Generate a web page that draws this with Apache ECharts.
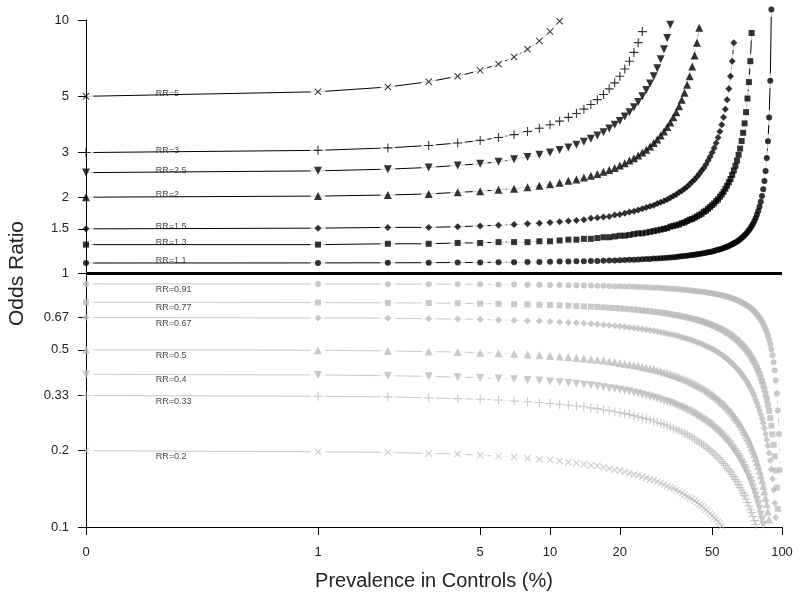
<!DOCTYPE html>
<html><head><meta charset="utf-8">
<script src="https://cdn.jsdelivr.net/npm/echarts@6/dist/echarts.min.js"></script>
<style>html,body{margin:0;padding:0;background:#fff}#c{width:800px;height:604px}</style>
</head><body><div id="c"></div>
<script>
// Prevalence in controls (%) — first point drawn at the "0" tick (0.1 on the log axis)
const prevalence = [0.1,1,2,3,4,5,6,7,8,9,10,11,12,13,14,15,16,17,18,19,20,21,22,23,24,25,26,27,28,29,30,31,32,33,34,35,36,37,38,39,40,41,42,43,44,45,46,47,48,49,50,51,52,53,54,55,56,57,58,59,60,61,62,63,64,65,66,67,68,69,70,71,72,73,74,75,76,77,78,79,80,81,82,83,84,85,86,87,88,89,90,91,92,93,94,95,96,97,98,99];

const xTickValues = [0.1,1,5,10,20,50,100];
const xTickLabels = ['0','1','5','10','20','50','100'];
const yTickValues = [0.1,0.2,0.33,0.5,0.67,1,1.5,2,3,5,10];
const yTickLabels = ['0.1','0.2','0.33','0.5','0.67','1','1.5','2','3','5','10'];

const curveLabels = ['RR=5','RR=3','RR=2.5','RR=2','RR=1.5','RR=1.3','RR=1.1','RR=0.91','RR=0.77','RR=0.67','RR=0.5','RR=0.4','RR=0.33','RR=0.2'];
const curveRR = [5,3,2.5,2,1.5,1.3,1.1,0.91,0.77,0.67,0.5,0.4,0.33,0.2];

// Odds ratios
const orRR5 = [5,5.21,5.44,5.71,6.0,6.33,6.71,7.15,7.67,8.27,9.0,9.89];
const orRR3 = [3,3.06,3.13,3.20,3.27,3.35,3.44,3.53,3.63,3.74,3.86,3.99,4.13,4.28,4.45,4.64,4.85,5.08,5.35,5.65,6.0,6.41,6.88,7.45,8.14,9.0];
const orRR25 = [2.5,2.54,2.58,2.62,2.67,2.71,2.76,2.82,2.88,2.94,3.0,3.07,3.14,3.22,3.31,3.4,3.5,3.61,3.73,3.86,4.0,4.16,4.33,4.53,4.75,5.0,5.29,5.62,6.0,6.45,7.0,7.67,8.5,9.57];
const orRR2 = [2,2.02,2.04,2.06,2.09,2.11,2.14,2.16,2.19,2.22,2.25,2.28,2.32,2.35,2.39,2.43,2.47,2.52,2.56,2.61,2.67,2.72,2.79,2.85,2.92,3.0,3.08,3.17,3.27,3.38,3.5,3.63,3.78,3.94,4.13,4.33,4.57,4.85,5.17,5.55,6.0,6.56,7.25,8.14,9.33];
const orRR15 = [1.5,1.51,1.52,1.52,1.53,1.54,1.55,1.56,1.57,1.58,1.59,1.60,1.61,1.62,1.63,1.65,1.66,1.67,1.68,1.70,1.71,1.73,1.75,1.76,1.78,1.8,1.82,1.84,1.86,1.89,1.91,1.93,1.96,1.99,2.02,2.05,2.09,2.12,2.16,2.20,2.25,2.30,2.35,2.41,2.47,2.54,2.61,2.69,2.79,2.89,3.0,3.13,3.27,3.44,3.63,3.86,4.13,4.45,4.85,5.35,6.0,6.88,8.14];
const orRR13 = [1.3,1.30,1.31,1.31,1.32,1.32,1.33,1.33,1.33,1.34,1.34,1.35,1.36,1.36,1.37,1.37,1.38,1.39,1.39,1.40,1.41,1.41,1.42,1.43,1.44,1.44,1.45,1.46,1.47,1.48,1.49,1.50,1.51,1.53,1.54,1.55,1.56,1.58,1.59,1.61,1.63,1.64,1.66,1.68,1.70,1.72,1.75,1.77,1.80,1.83,1.86,1.89,1.93,1.96,2.01,2.05,2.10,2.16,2.22,2.29,2.36,2.45,2.55,2.66,2.79,2.94,3.11,3.33,3.59,3.91,4.33,4.90,5.69,6.88,8.89];
const orRR11 = [1.1,1.101,1.102,1.103,1.105,1.106,1.107,1.108,1.110,1.111,1.112,1.114,1.115,1.117,1.118,1.120,1.121,1.123,1.125,1.126,1.128,1.130,1.132,1.134,1.136,1.138,1.140,1.142,1.145,1.147,1.149,1.152,1.154,1.157,1.160,1.163,1.166,1.169,1.172,1.175,1.179,1.182,1.186,1.190,1.194,1.198,1.202,1.207,1.212,1.217,1.222,1.228,1.234,1.240,1.246,1.253,1.260,1.268,1.276,1.285,1.294,1.304,1.315,1.326,1.338,1.351,1.365,1.380,1.397,1.415,1.435,1.457,1.481,1.508,1.538,1.571,1.610,1.654,1.704,1.763,1.833,1.917,2.020,2.149,2.316,2.539,2.852,3.326,4.125,5.762,11.0];
const orRR091 = [0.91,0.909,0.908,0.908,0.907,0.906,0.905,0.904,0.903,0.902,0.901,0.900,0.899,0.898,0.897,0.896,0.895,0.894,0.892,0.891,0.890,0.889,0.888,0.886,0.885,0.884,0.882,0.881,0.879,0.878,0.876,0.875,0.873,0.871,0.870,0.868,0.866,0.864,0.862,0.861,0.859,0.856,0.854,0.852,0.850,0.848,0.845,0.843,0.840,0.838,0.835,0.832,0.829,0.826,0.823,0.820,0.817,0.813,0.809,0.806,0.802,0.798,0.794,0.789,0.785,0.780,0.775,0.769,0.764,0.758,0.752,0.746,0.739,0.732,0.724,0.717,0.708,0.699,0.690,0.680,0.669,0.658,0.645,0.632,0.618,0.603,0.586,0.568,0.548,0.527,0.503,0.476,0.447,0.414,0.378,0.336,0.288,0.233,0.168];
const orRR077 = [0.77,0.768,0.766,0.765,0.763,0.761,0.759,0.757,0.755,0.753,0.751,0.749,0.747,0.744,0.742,0.740,0.738,0.735,0.733,0.731,0.728,0.726,0.723,0.721,0.718,0.715,0.712,0.710,0.707,0.704,0.701,0.698,0.695,0.692,0.688,0.685,0.682,0.678,0.675,0.671,0.668,0.664,0.660,0.656,0.652,0.648,0.644,0.640,0.635,0.631,0.626,0.621,0.616,0.611,0.606,0.601,0.596,0.590,0.584,0.579,0.573,0.566,0.560,0.553,0.547,0.540,0.532,0.525,0.517,0.509,0.501,0.493,0.484,0.475,0.465,0.456,0.446,0.435,0.424,0.413,0.401,0.389,0.376,0.363,0.349,0.334,0.319,0.303,0.287,0.269,0.251,0.232,0.211,0.190,0.167,0.143,0.118];
const orRR067 = [0.67,0.668,0.666,0.663,0.661,0.659,0.656,0.654,0.651,0.649,0.646,0.644,0.641,0.639,0.636,0.633,0.630,0.628,0.625,0.622,0.619,0.616,0.613,0.610,0.607,0.604,0.600,0.597,0.594,0.590,0.587,0.584,0.580,0.576,0.573,0.569,0.565,0.561,0.557,0.553,0.549,0.545,0.541,0.536,0.532,0.528,0.523,0.518,0.514,0.509,0.504,0.499,0.494,0.488,0.483,0.477,0.472,0.466,0.460,0.454,0.448,0.442,0.436,0.429,0.422,0.415,0.408,0.401,0.394,0.386,0.379,0.371,0.362,0.354,0.346,0.337,0.328,0.318,0.309,0.299,0.289,0.278,0.268,0.257,0.245,0.233,0.221,0.209,0.196,0.183,0.169,0.155,0.140,0.124,0.109];
const orRR05 = [0.5,0.498,0.495,0.492,0.490,0.487,0.485,0.482,0.479,0.476,0.474,0.471,0.468,0.465,0.462,0.459,0.457,0.454,0.451,0.448,0.444,0.441,0.438,0.435,0.432,0.429,0.425,0.422,0.419,0.415,0.412,0.408,0.405,0.401,0.398,0.394,0.390,0.387,0.383,0.379,0.375,0.371,0.367,0.363,0.359,0.355,0.351,0.346,0.342,0.338,0.333,0.329,0.324,0.320,0.315,0.310,0.306,0.301,0.296,0.291,0.286,0.281,0.275,0.270,0.265,0.259,0.254,0.248,0.242,0.237,0.231,0.225,0.219,0.213,0.206,0.200,0.194,0.187,0.180,0.174,0.167,0.160,0.153,0.145,0.138,0.130,0.123,0.115,0.107];
const orRR04 = [0.4,0.398,0.395,0.393,0.390,0.388,0.385,0.383,0.380,0.378,0.375,0.372,0.370,0.367,0.364,0.362,0.359,0.356,0.353,0.351,0.348,0.345,0.342,0.339,0.336,0.333,0.330,0.327,0.324,0.321,0.318,0.315,0.312,0.309,0.306,0.302,0.299,0.296,0.293,0.289,0.286,0.282,0.279,0.275,0.272,0.268,0.265,0.261,0.257,0.254,0.250,0.246,0.242,0.239,0.235,0.231,0.227,0.223,0.219,0.215,0.211,0.206,0.202,0.198,0.194,0.189,0.185,0.180,0.176,0.171,0.167,0.162,0.157,0.153,0.148,0.143,0.138,0.133,0.128,0.123,0.118,0.112,0.107,0.102];
const orRR033 = [0.33,0.328,0.326,0.323,0.321,0.319,0.317,0.314,0.312,0.310,0.307,0.305,0.302,0.300,0.298,0.295,0.293,0.290,0.288,0.285,0.283,0.280,0.278,0.275,0.272,0.270,0.267,0.265,0.262,0.259,0.256,0.254,0.251,0.248,0.245,0.243,0.240,0.237,0.234,0.231,0.228,0.225,0.222,0.219,0.216,0.213,0.210,0.207,0.204,0.201,0.198,0.194,0.191,0.188,0.185,0.181,0.178,0.175,0.171,0.168,0.165,0.161,0.158,0.154,0.151,0.147,0.143,0.140,0.136,0.133,0.129,0.125,0.121,0.117,0.114,0.110,0.106,0.102];
const orRR02 = [0.2,0.198,0.197,0.195,0.194,0.192,0.190,0.189,0.187,0.185,0.184,0.182,0.180,0.179,0.177,0.175,0.174,0.172,0.170,0.168,0.167,0.165,0.163,0.161,0.160,0.158,0.156,0.154,0.153,0.151,0.149,0.147,0.145,0.143,0.142,0.140,0.138,0.136,0.134,0.132,0.130,0.129,0.127,0.125,0.123,0.121,0.119,0.117,0.115,0.113,0.111,0.109,0.107,0.105,0.103,0.101];

const curveValues = [orRR5,orRR3,orRR25,orRR2,orRR15,orRR13,orRR11,orRR091,orRR077,orRR067,orRR05,orRR04,orRR033,orRR02];

// ---- styling ----
const FONT = '"Liberation Sans", Arial, sans-serif';
const BLACK = '#000000', GREY_MARK = '#bcbcbc', GREY_LINE = '#c8c8c8';
const SYM = {
  x:      {symbol:'path://M0,1L1,0L5,4L9,0L10,1L6,5L10,9L9,10L5,6L1,10L0,9L4,5Z', size:7, rotate:0},
  plus:   {symbol:'path://M4.4,0H5.6V4.4H10V5.6H5.6V10H4.4V5.6H0V4.4H4.4Z', size:9, rotate:0},
  dtri:   {symbol:'triangle', size:8, rotate:180},
  tri:    {symbol:'triangle', size:8, rotate:0},
  diamond:{symbol:'diamond', size:7, rotate:0},
  square: {symbol:'rect', size:6, rotate:0},
  circle: {symbol:'circle', size:6, rotate:0}
};
const symOrder = ['x','plus','dtri','tri','diamond','square','circle','circle','square','diamond','tri','dtri','plus','x'];

const series = [];
curveValues.forEach((vals, k) => {
  const upper = curveRR[k] > 1;
  const pts = vals.map((v, i) => [prevalence[i], v]);
  const s = SYM[symOrder[k]];
  series.push({type:'line', data:pts, symbol:'none', showSymbol:false, clip:false, z:1, silent:true,
    lineStyle:{color: upper ? BLACK : GREY_LINE, width:1}});
  series.push({type:'scatter', data:pts, symbol:'circle', symbolSize:15, clip:false, z:2, silent:true,
    itemStyle:{color:'#ffffff'}});
  series.push({type:'scatter', data:pts, symbol:s.symbol, symbolSize:s.size, symbolRotate:s.rotate, clip:false, z:4, silent:true,
    itemStyle:{color: upper ? BLACK : GREY_MARK}});
});
// curve name labels
series.push({type:'scatter', z:5, silent:true, symbolSize:0, clip:false,
  data: curveLabels.map((t, k) => ({value:[0.2, curveRR[k]], name:t,
    label:{show:true, formatter:t, position:[0,0], align:'left',
      verticalAlign: curveRR[k] > 1 ? 'bottom' : 'top', offset:[0, curveRR[k] > 1 ? 2 : 1],
      fontSize:9, fontFamily:FONT, color:'#111'}}))
});
// reference line at OR = 1
series.push({type:'scatter', data:[], z:3, silent:true,
  markLine:{silent:true, symbol:'none', label:{show:false}, animation:false,
    lineStyle:{color:'#000', width:3, type:'solid'}, data:[{yAxis:1}]}});

const chart = echarts.init(document.getElementById('c'), null, {renderer:'canvas'});
chart.setOption({
  animation:false,
  backgroundColor:'#ffffff',
  grid:{left:86, right:18, top:20, bottom:77, containLabel:false, outerBoundsMode:'none'},
  xAxis:{type:'log', logBase:10, min:0.1, max:100, z:3,
    name:'Prevalence in Controls (%)', nameLocation:'middle', nameGap:44,
    nameTextStyle:{fontSize:20, color:'#222', fontFamily:FONT},
    axisLine:{onZero:false, lineStyle:{color:'#000', width:1}},
    axisTick:{show:true, length:8, customValues:xTickValues, lineStyle:{color:'#000'}},
    minorTick:{show:false}, splitLine:{show:false},
    axisLabel:{customValues:xTickValues, margin:19, fontSize:13, color:'#222', fontFamily:FONT,
      formatter:v => { const i = xTickValues.findIndex(t => Math.abs(t - v) < 1e-6 * Math.max(1, t)); return i >= 0 ? xTickLabels[i] : ''; }}
  },
  yAxis:{type:'log', logBase:10, min:0.1, max:10, z:3,
    name:'Odds Ratio', nameLocation:'middle', nameGap:58, nameRotate:90,
    nameTextStyle:{fontSize:21, color:'#222', fontFamily:FONT},
    axisLine:{onZero:false, lineStyle:{color:'#000', width:1}},
    axisTick:{show:true, length:8, customValues:yTickValues, lineStyle:{color:'#000'}},
    minorTick:{show:false}, splitLine:{show:false},
    axisLabel:{customValues:yTickValues, margin:17, fontSize:13, color:'#222', fontFamily:FONT,
      formatter:v => { const i = yTickValues.findIndex(t => Math.abs(t - v) < 1e-6 * Math.max(1, t)); return i >= 0 ? yTickLabels[i] : ''; }}
  },
  series: series
});
</script></body></html>
